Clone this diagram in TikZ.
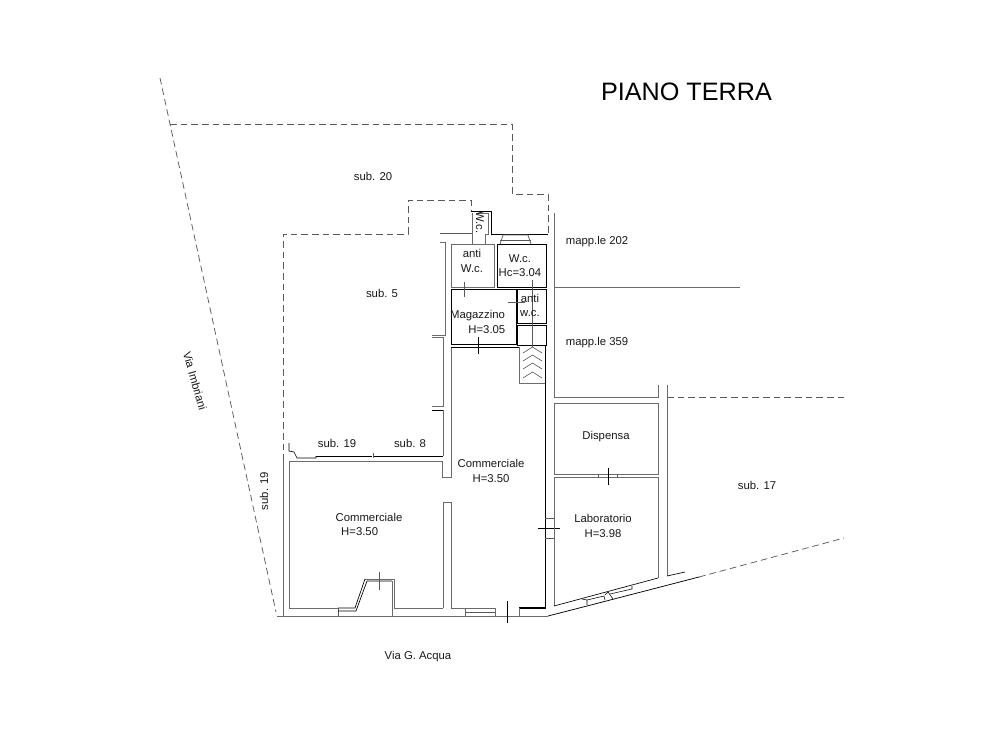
\documentclass[tikz,border=0pt]{standalone}
\usepackage{fontspec}
\setmainfont{Liberation Sans}
\definecolor{wallc}{gray}{0.42}
\definecolor{thinc}{gray}{0.35}
\begin{document}
\begin{tikzpicture}[x=0.75pt,y=-0.75pt,
  wall/.style={draw=wallc,line width=0.6pt,line join=miter},
  blk/.style={draw=black,line width=0.65pt},
  thn/.style={draw=thinc,line width=0.45pt},
  dsh/.style={draw=thinc,line width=0.55pt,dash pattern=on 5pt off 3pt},
  lbl/.style={font=\fontsize{8.5pt}{10.8pt}\selectfont,align=center,inner sep=0pt,text=black!90}]
\useasboundingbox[fill=white] (0,0) rectangle (1000,750);
% dashed boundaries
\draw[dsh] (160,78) -- (276,612);
\draw[dsh] (170,124) -- (512,124) -- (512,194) -- (548,194) -- (548,234);
\draw[dsh] (283,461) -- (283,234) -- (408,234) -- (408,200) -- (471,200) -- (471,211);
\draw[dsh] (667,397) -- (844,397);
\draw[dsh] (699,577) -- (844,538);
% outer left and street
\draw[wall] (283,461) -- (283,616);
\draw[wall] (277,616) -- (548,616);
% Commerciale left room
\draw[wall] (338,608) -- (289,608) -- (289,461) -- (442,461) -- (442,477) -- (451,477) -- (451,347);
\draw[wall] (443,608) -- (443,502) -- (451,502) -- (451,608) -- (495,608);
\draw[wall] (443,608) -- (394,608) -- (394,579) -- (365,579);
\draw[blk,line width=0.5pt] (365,579) -- (355,608) -- (338,608);
\draw[thn] (338,608) -- (338,616);
\draw[blk,line width=0.5pt] (338,611) -- (356,611) -- (367,581) -- (392,581);
\draw[wall] (392,581) -- (392,616);
\draw[thn] (379,572) -- (379,590);
% sub.5 side
\draw[wall] (440,242) -- (445,242) -- (445,335) -- (432,335);
\draw[wall] (432,337) -- (443,337) -- (443,406) -- (432,406);
\draw[blk] (432,410) -- (443,410);
\draw[wall] (443,410) -- (443,456);
\draw[blk] (316,456) -- (372,456);
\draw[blk] (374,456) -- (443,456);
\draw[blk,line width=0.5pt] (289,443) -- (289,451) -- (294,452) -- (297,458) -- (316,458) -- (316,456);
\draw[thn] (373,453) -- (373,458);
\draw[thn] (440,233) -- (472,233);
% W.c. niche
\draw[blk] (471,211) -- (491,211) -- (491,234) -- (548,234);
\draw[wall] (472,213) -- (472,244);
\draw[wall] (477,213) -- (488,213) -- (488,234) -- (485,234) -- (485,244);
% rooms upper
\draw[wall] (451,244) rectangle (494,287);
\draw[blk,line width=0.55pt] (497,244) rectangle (546,287);
\draw[blk] (451,289) rectangle (516,344);
\draw[blk,line width=0.55pt] (517,289) rectangle (546,323);
\draw[blk,line width=0.55pt] (517,325) rectangle (546,345);
\draw[blk,line width=0.55pt] (451,347) -- (519,347);
\draw[wall] (500,244) -- (503,235) -- (528,235) -- (531,244);
\draw[thn] (500,240) -- (531,240);
% ticks
\draw[thn] (464,282) -- (464,297);
\draw[thn] (508,302) -- (525,302);
\draw[thn] (532,280) -- (532,347);
\draw[blk,line width=0.5pt] (478,337) -- (478,354);
% stairs
\draw[wall] (519,347) -- (519,383) -- (546,383);
\foreach \yy in {347,355,363,372}{
  \draw[thn] (523,\yy+6) -- (532.5,\yy) -- (542,\yy+6);
}
% long wall
\draw[blk,line width=0.8pt] (545.5,345) -- (545.5,608) -- (519,608);
\draw[wall] (519,608) -- (519,616);
\draw[wall] (495,608) -- (495,616);
\draw[wall] (465,608) -- (465,616);
\draw[thn] (465,612) -- (495,612);
\draw[blk] (507,601) -- (507,623);
\draw[thn] (545,518) -- (554,518);
\draw[thn] (545,538) -- (554,538);
\draw[blk,line width=0.55pt] (538,528) -- (560,528);
% right rooms
\draw[wall] (554,213) -- (554,397) -- (658,397) -- (658,385);
\draw[wall] (554,287) -- (740,287);
\draw[wall] (554,403) rectangle (658,474);
\draw[wall] (554,606) -- (554,477) -- (658,477) -- (658,578);
\draw[wall] (667,385) -- (667,576);
\draw[blk,line width=0.5pt] (667,576) -- (685,572);
\draw[blk,line width=0.55pt] (608,468) -- (608,485);
\draw[thn] (598,474) -- (598,477);
\draw[thn] (617,474) -- (617,477);
% sloped front
\draw[blk,line width=0.55pt] (548,616) -- (587,606) -- (699,577);
\draw[blk,line width=0.5pt] (554,606) -- (658,578);
\draw[blk,line width=0.4pt] (582,599) -- (587,600) -- (587,605);
\draw[blk,line width=0.4pt] (587,600) -- (604,596) -- (605,600);
\draw[blk,line width=0.4pt] (605,595) -- (608,592) -- (613,599);
\draw[blk,line width=0.4pt] (610,594) -- (632,589) -- (632,586);
% labels
\node[font=\fontsize{18.9pt}{20pt}\selectfont,inner sep=0pt] (title) at (686.5,92) {PIANO TERRA};
\node[lbl] (s20) at (373,176) {sub. 20};
\node[lbl] (s5) at (382,293) {sub. 5};
\node[lbl] (m202) at (597,242) {mapp.le 202};
\node[lbl] (m359) at (597,343) {mapp.le 359};
\node[lbl] (awc1) at (472,261) {anti\\W.c.};
\node[lbl] (wc) at (520,265.5) {W.c.\\Hc=3.04};
\node[lbl] (awc2) at (530,305.5) {anti\\w.c.};
\node[lbl] (mag) at (477.5,322) {Magazzino\\\hspace*{14pt}H=3.05};
\node[lbl,rotate=-90] (wcv) at (480,222.5) {W.c.};
\node[lbl,rotate=-74] (imb) at (195,381) {Via Imbriani};
\node[lbl,rotate=90] (s19v) at (264,491) {sub. 19};
\node[lbl] (s19) at (337,443) {sub. 19};
\node[lbl] (s8) at (410,443) {sub. 8};
\node[lbl] (c1) at (491,471) {Commerciale\\H=3.50};
\node[lbl] (c2) at (369,524.5) {Commerciale\\\hspace*{-14pt}H=3.50};
\node[lbl] (disp) at (606,436.5) {Dispensa};
\node[lbl] (lab) at (603,526) {Laboratorio\\H=3.98};
\node[lbl] (s17) at (757,485) {sub. 17};
\node[lbl] (acqua) at (418,657) {Via G. Acqua};
\end{tikzpicture}
\end{document}
